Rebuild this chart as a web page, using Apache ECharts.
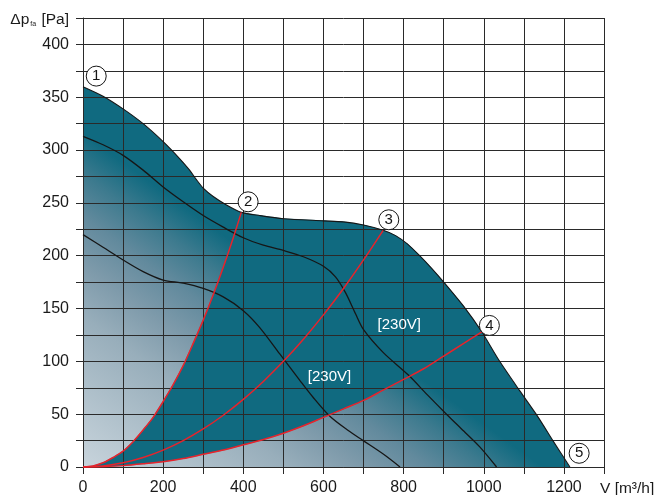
<!DOCTYPE html>
<html>
<head>
<meta charset="utf-8">
<script src="https://cdn.jsdelivr.net/npm/echarts@6/dist/echarts.min.js"></script>
<style>html,body{margin:0;padding:0;background:#fff}#c{width:654px;height:495px}</style>
</head>
<body>
<div id="c"></div>
<script>
// Outer (max speed) fan curve [V m3/h, dp Pa]
const outerCurve = [[0,360],[50,351],[100,339],[150,325],[200,308],[241,292],[266,281],[283,272],[300,264],[325,256],[358,248],[395,241],[441,238],[500,235],[600,233],[650,232],[700,229],[749,224],[780,219],[810,211],[840,200],[870,188],[900,175],[950,152],[995,128],[1038,101],[1090,72],[1136,47],[1174,24],[1215,0]];
// Middle speed curve
const curveMid = [[0,313],[50,305],[100,295],[150,281],[200,265],[250,251],[300,238],[350,227],[400,217],[450,210],[500,205],[550,199],[600,190],[630,180],[655,165],[680,145],[700,130],[750,108],[812,87],[860,68],[907,50],[950,34],[990,19],[1032,0]];
// Low speed curve
const curveLow = [[0,220],[50,208],[100,196],[150,185],[200,177],[250,174],[300,169],[350,161],[400,148],[441,132],[491,107],[541,82],[574,66],[616,48],[660,35],[699,25],[750,12],[791,0]];
// System (red) curves
const red2 = [[0,0],[25,1],[50,4],[75,9],[100,15],[125,24],[150,35],[175,47],[200,62],[225,78],[250,96],[275,117],[300,139],[325,163],[350,189],[375,217],[395,241]];
const red3 = [[0,0],[50,1],[100,4],[150,9],[200,16],[250,25],[300,36],[350,49],[400,64],[450,81],[500,100],[550,121],[600,144],[650,169],[700,196],[749,224]];
const red4 = [[0,0],[50,0.3],[100,1.3],[150,3],[200,5],[250,8],[300,12],[350,16],[400,21],[450,26],[500,32],[550,39],[600,47],[650,55],[700,63],[750,73],[800,83],[850,93],[900,105],[950,117],[995,128]];
// Numbered markers [x, y, label]
const markers = [[33,370,'1'],[412,251,'2'],[763,234,'3'],[1014,134,'4'],[1238,13,'5']];
// Text annotations [x, y, text]
const notes = [[789,135,'[230V]'],[615,85,'[230V]']];
// Axis tick settings
const xMax = 1300, xStep = 100, xLabelStep = 200;
const yMax = 425, yStep = 25, yLabelStep = 50;

const FONT = "'Liberation Sans', Arial, Helvetica, sans-serif";
const TEAL = '#106a80';
const GRID = '#2a2a2a';

const chart = echarts.init(document.getElementById('c'), null, {renderer:'canvas'});

const tealEdge = red2.concat(outerCurve.filter(p => p[0] > 395 && p[0] < 995), red4.slice().reverse());

const option = {
  animation: false,
  backgroundColor: '#fff',
  grid: {left: 83, right: 50, top: 18, bottom: 28, containLabel: false, outerBoundsMode: 'none'},
  xAxis: {
    type: 'value', min: 0, max: xMax, interval: xStep, z: 2,
    name: 'V [m\u00b3/h]', nameLocation: 'end', nameGap: -4,
    nameTextStyle: {fontFamily: FONT, fontSize: 15.5, color: '#1a1a1a', align: 'left', verticalAlign: 'top', padding: [14,0,0,0]},
    axisLine: {show: true, lineStyle: {color: GRID, width: 1}},
    axisTick: {show: true, length: 7, lineStyle: {color: GRID, width: 1}},
    axisLabel: {fontFamily: FONT, fontSize: 16, color: '#1a1a1a', margin: 13,
      formatter: v => (v % xLabelStep === 0 ? String(v) : '')},
    splitLine: {show: true, lineStyle: {color: GRID, width: 1}}
  },
  yAxis: {
    type: 'value', min: 0, max: yMax, interval: yStep, z: 2,
    name: '{a|\u0394p}{s|fa}{a| [Pa]}', nameLocation: 'end', nameGap: -1,
    nameTextStyle: {align: 'right', verticalAlign: 'middle', padding: [0,14,0,0],
      rich: {a: {fontFamily: FONT, fontSize: 15.5, color: '#1a1a1a', lineHeight: 18, verticalAlign: 'bottom'},
             s: {fontFamily: FONT, fontSize: 7, color: '#1a1a1a', lineHeight: 18, verticalAlign: 'bottom', padding: [0,1,0,1]}}},
    axisLine: {show: true, lineStyle: {color: GRID, width: 1}},
    axisTick: {show: true, length: 7, lineStyle: {color: GRID, width: 1}},
    axisLabel: {fontFamily: FONT, fontSize: 16, color: '#1a1a1a', margin: 14,
      formatter: v => (v % yLabelStep === 0 ? String(v) : '')},
    splitLine: {show: true, lineStyle: {color: GRID, width: 1}}
  },
  series: [
    {
      type: 'line', z: 1, data: outerCurve, smooth: 0.25, symbol: 'none',
      lineStyle: {width: 0},
      areaStyle: {opacity: 1, color: {type: 'linear', x: 0, y: 1, x2: 0.326, y2: 0.425,
        colorStops: [
          {offset: 0, color: '#c8d4dc'}, {offset: 0.45, color: '#98aebb'},
          {offset: 0.6, color: '#7f9bab'}, {offset: 0.75, color: '#628a9d'},
          {offset: 0.88, color: '#3c7a8e'}, {offset: 1, color: TEAL}]}},
      silent: true
    },
    {
      type: 'custom', z: 1, coordinateSystem: 'cartesian2d', data: [[0,0]], silent: true,
      renderItem: function (params, api) {
        const pts = tealEdge.map(p => api.coord(p));
        return {type: 'polygon', shape: {points: pts}, style: {fill: TEAL, stroke: TEAL, lineWidth: 0.5}};
      }
    },
    {type: 'line', z: 3, data: outerCurve, smooth: 0.25, symbol: 'none', lineStyle: {color: '#161616', width: 1.1}, silent: true},
    {type: 'line', z: 3, data: curveMid, smooth: 0.3, symbol: 'none', lineStyle: {color: '#161616', width: 1.3}, silent: true},
    {type: 'line', z: 3, data: curveLow, smooth: 0.3, symbol: 'none', lineStyle: {color: '#161616', width: 1.3}, silent: true},
    {type: 'line', z: 3, data: red2, smooth: 0.3, symbol: 'none', lineStyle: {color: '#e8232b', width: 1.5}, silent: true},
    {type: 'line', z: 3, data: red3, smooth: 0.3, symbol: 'none', lineStyle: {color: '#e8232b', width: 1.5}, silent: true},
    {type: 'line', z: 3, data: red4, smooth: 0.3, symbol: 'none', lineStyle: {color: '#e8232b', width: 1.5}, silent: true},
    {
      type: 'scatter', z: 4, data: markers, symbol: 'circle', symbolSize: 20, silent: true,
      itemStyle: {color: '#fff', borderColor: '#161616', borderWidth: 1, opacity: 1},
      label: {show: true, position: 'inside', formatter: p => p.data[2], fontFamily: FONT, fontSize: 15, color: '#161616'}
    },
    {
      type: 'custom', z: 4, coordinateSystem: 'cartesian2d', data: notes, silent: true,
      renderItem: function (params, api) {
        const c = api.coord([api.value(0), api.value(1)]);
        return {type: 'text', x: c[0], y: c[1],
          style: {text: notes[params.dataIndex][2], fill: '#ffffff', font: '15px ' + FONT, align: 'center', verticalAlign: 'middle'}};
      }
    }
  ]
};
chart.setOption(option);
</script>
</body>
</html>
